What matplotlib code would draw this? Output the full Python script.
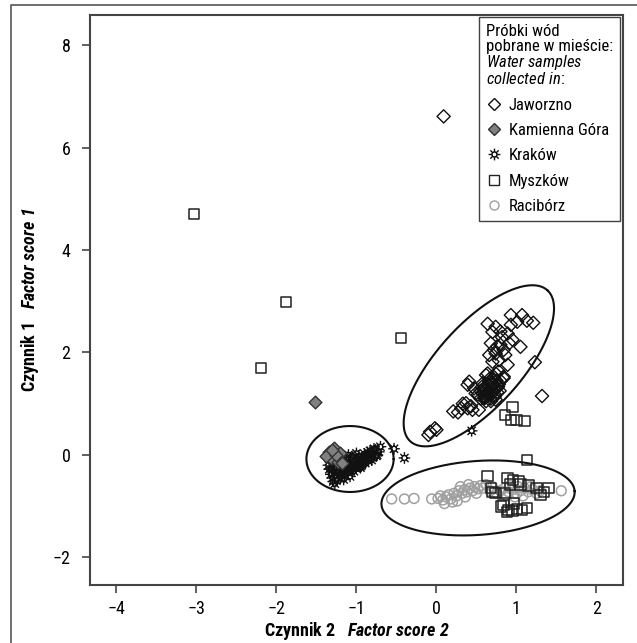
import numpy as np
import matplotlib
matplotlib.use("Agg")
import matplotlib.pyplot as plt
from matplotlib import font_manager
from matplotlib.path import Path
from matplotlib.lines import Line2D

# pick a narrow sans if one is installed
ttf = font_manager.fontManager.ttflist
names = {f.name for f in ttf}
STRETCH = "normal"
if "Liberation Sans Narrow" in names:
    FONT = "Liberation Sans Narrow"
elif "Roboto Condensed" in names:
    FONT = "Roboto Condensed"
elif any(f.name == "DejaVu Sans" and f.stretch != "normal" for f in ttf):
    FONT = "DejaVu Sans"
    STRETCH = "condensed"
else:
    FONT = "Liberation Sans"
plt.rcParams["font.family"] = [FONT, "DejaVu Sans"]
plt.rcParams["font.stretch"] = STRETCH
plt.rcParams["mathtext.fontset"] = "custom"
sfx = "" if STRETCH == "normal" else ":condensed"
plt.rcParams["mathtext.rm"] = FONT + sfx
plt.rcParams["mathtext.it"] = FONT + ":italic" + sfx
plt.rcParams["mathtext.bf"] = FONT + ":bold" + sfx
plt.rcParams["mathtext.bfit"] = FONT + ":italic:bold" + sfx

# factor scores (x = factor 2, y = factor 1)
jaw_x = [0.09, 1.32, 1.23,
         0.93, 1.07, 1.21, 1.13, 0.64, 0.74, 0.80, 0.93, 1.01, 0.89, 0.68, 0.80, 0.91, 1.05,
         0.84, 0.74, 0.66, 0.78, 0.89, 0.70, 0.64, 0.78, 0.41, 0.47, 0.84, 0.72, 0.76, 0.82,
         0.70, 0.86, 0.95,
         0.55, 0.60, 0.65, 0.70, 0.75, 0.60, 0.65, 0.70, 0.75, 0.55, 0.62, 0.68, 0.73, 0.78,
         0.58, 0.66, 0.72, 0.80, 0.63, 0.69, 0.52, 0.57, 0.74, 0.79,
         0.58, 0.63, 0.67, 0.71, 0.76, 0.61, 0.66, 0.71, 0.68, 0.64, 0.73, 0.77, 0.59, 0.69,
         0.39, 0.49, 0.60, 0.62, 0.74, 0.84, 0.45, 0.37, 0.53, 0.31, 0.21, 0.27, 0.39, -0.08,
         -0.02, -0.10, 0.00, 0.33, 0.43]
jaw_y = [6.61, 1.15, 1.81,
         2.73, 2.73, 2.58, 2.62, 2.56, 2.50, 2.41, 2.54, 2.60, 2.37, 2.18, 2.15, 2.18, 2.11,
         2.05, 1.98, 1.95, 1.85, 1.76, 1.82, 1.59, 1.63, 1.43, 1.30, 1.50, 2.05, 2.12, 2.30,
         2.40, 1.95, 2.25,
         1.10, 1.15, 1.20, 1.25, 1.30, 1.30, 1.35, 1.40, 1.45, 1.25, 1.05, 1.10, 1.18, 1.38,
         1.40, 1.48, 1.52, 1.45, 1.22, 1.32, 1.18, 1.33, 1.08, 1.25,
         1.20, 1.28, 1.16, 1.36, 1.22, 1.12, 1.42, 1.30, 1.05, 1.38, 1.14, 1.33, 1.24, 1.48,
         1.37, 1.20, 1.11, 1.56, 1.59, 1.53, 0.88, 1.01, 0.88, 0.91, 0.85, 0.83, 0.91, 0.45,
         0.52, 0.39, 0.49, 1.00, 0.95]

kam_x = [-1.52, -1.34, -1.28, -1.21, -1.32, -1.23, -1.38, -1.18, -1.26, -1.30]
kam_y = [1.04, 0.06, 0.13, 0.03, -0.06, -0.13, -0.02, -0.15, 0.00, 0.10]

kra_x = [-1.30, -1.25, -1.22, -1.28, -1.18, -1.15, -1.10, -1.12, -1.05, -1.00, -1.08, -1.02,
         -0.95, -0.92, -0.88, -0.85, -0.80, -0.78, -0.90, -0.97, -1.05, -1.15, -1.20, -1.25,
         -1.18, -1.10, -1.00, -0.95, -0.85, -1.13, -1.08, -1.20, -0.76, -0.70, -0.78, -0.53,
         -0.40, 0.44, -0.83, -0.93, -1.03, -1.16, -1.26, -1.32, -1.35, -1.30, -1.22, -1.12,
         -0.98, -0.88, -0.82, -1.06, -1.14, -0.74, -0.86, -1.24, -1.34,
         -1.19, -1.09, -0.99, -0.91, -1.04, -1.13, -1.23, -1.29, -0.96, -0.87, -1.17, -1.07,
         -0.81, -0.75, -0.89, -0.94, -1.01, -1.11, -1.21, -1.31, -1.27, -0.72]
kra_y = [-0.45, -0.50, -0.40, -0.35, -0.30, -0.40, -0.35, -0.25, -0.28, -0.20, -0.15, -0.10,
         -0.15, -0.05, -0.10, 0.00, -0.05, 0.05, 0.02, -0.02, -0.05, -0.10, -0.20, -0.25,
         -0.05, 0.00, 0.03, -0.25, -0.12, -0.20, -0.42, -0.45, 0.10, 0.16, 0.12, 0.12,
         -0.06, 0.47, 0.08, -0.18, -0.32, -0.48, -0.40, -0.38, -0.20, -0.10, -0.30, -0.05,
         -0.08, -0.02, 0.02, -0.20, -0.32, 0.00, 0.05, -0.15, -0.28,
         -0.38, -0.22, -0.12, -0.08, -0.14, -0.15, -0.33, -0.52, -0.22, -0.05, -0.24, -0.30,
         -0.10, -0.02, -0.16, -0.22, -0.26, -0.28, -0.12, -0.28, -0.56, 0.06]

mys_x = [-3.03, -1.88, -0.44, -2.19, 0.95, 0.86, 0.93, 1.00, 1.10, 1.13,
         0.64, 0.70, 0.81, 0.74, 0.89, 0.96, 1.03, 1.05, 0.92, 0.84, 0.90, 1.01, 1.13,
         0.95, 1.07, 0.97, 1.34, 1.40, 1.25, 1.30, 1.15, 0.68, 0.85, 0.88]
mys_y = [4.71, 2.99, 2.28, 1.70, 0.94, 0.78, 0.68, 0.68, 0.66, -0.10,
         -0.41, -0.72, -1.01, -0.74, -0.45, -0.49, -0.52, -0.58, -0.58, -0.98, -1.07, -1.05, -1.03,
         -1.10, -1.08, -0.95, -0.72, -0.65, -0.65, -0.78, -0.60, -0.65, -0.75, -1.12]

rac_x = [-0.56, -0.40, -0.28, -0.06, 0.02, 0.05, 0.08, 0.12, 0.15, 0.18, 0.22, 0.25, 0.28,
         0.32, 0.35, 0.38, 0.42, 0.45, 0.48, 0.52, 0.55, 0.58, 0.62, 0.30, 0.20, 0.10, 0.40,
         0.50, 0.26, 0.36,
         0.80, 0.85, 0.90, 0.95, 1.00, 1.05, 1.10, 1.15, 1.20, 1.25, 0.88, 0.98, 1.08, 1.18,
         0.92, 1.02, 0.75, 1.30, 1.56, 0.70, 0.67]
rac_y = [-0.86, -0.86, -0.85, -0.86, -0.85, -0.80, -0.88, -0.82, -0.78, -0.86, -0.75, -0.80,
         -0.70, -0.75, -0.68, -0.72, -0.65, -0.70, -0.62, -0.66, -0.60, -0.65, -0.58, -0.62,
         -0.92, -0.95, -0.58, -0.75, -0.90, -0.82,
         -0.70, -0.65, -0.72, -0.68, -0.75, -0.70, -0.65, -0.72, -0.68, -0.75, -0.80, -0.82,
         -0.80, -0.62, -0.60, -0.62, -0.75, -0.70, -0.70, -0.62, -0.70]

# group ellipses: centre, half-axis vectors (data units)
ell_centres = [(0.53, 1.74), (0.52, -0.84), (-1.08, -0.08)]
ell_axis1 = [(0.86, 1.47), (1.207, 0.133), (0.545, 0.0)]
ell_axis2 = [(0.379, -0.56), (0.032, -0.72), (0.0, 0.644)]

x_ticks = [-4, -3, -2, -1, 0, 1, 2]
y_ticks = [-2, 0, 2, 4, 6, 8]


def sun_marker():
    t = np.linspace(0, 2 * np.pi, 25)
    ring = Path(np.column_stack([0.42 * np.cos(t), 0.42 * np.sin(t)]))
    parts = [ring]
    for a in np.arange(8) * np.pi / 4:
        parts.append(Path([(0.42 * np.cos(a), 0.42 * np.sin(a)), (np.cos(a), np.sin(a))],
                          [Path.MOVETO, Path.LINETO]))
    return Path.make_compound_path(*parts)


SUN = sun_marker()

fig = plt.figure(figsize=(6.37, 6.43), dpi=100)
# outer frame of the printed figure: only its left and top edges fall inside the image
fig.add_artist(Line2D([0.0173, 0.0173, 1.01], [-0.01, 0.9915, 0.9915],
                      transform=fig.transFigure, color="#555555", linewidth=1.2))
ax = fig.add_axes([0.1413, 0.0902, 0.8365, 0.8865])

ax.scatter(rac_x, rac_y, s=50, marker="o", facecolors="none", edgecolors="#a0a0a0",
           linewidths=1.1, zorder=2)
ax.scatter(mys_x, mys_y, s=55, marker="s", facecolors="none", edgecolors="#222222",
           linewidths=1.1, zorder=3)
ax.scatter(jaw_x, jaw_y, s=45, marker="D", facecolors="none", edgecolors="#111111",
           linewidths=1.0, zorder=3)
ax.scatter(kra_x, kra_y, s=70, marker=SUN, facecolors="none", edgecolors="#111111",
           linewidths=1.0, zorder=3)
ax.scatter(kam_x, kam_y, s=42, marker="D", facecolors="#808080", edgecolors="#333333",
           linewidths=1.0, zorder=4)

t = np.linspace(0, 2 * np.pi, 300)
for c, a1, a2 in zip(ell_centres, ell_axis1, ell_axis2):
    ex = c[0] + np.cos(t) * a1[0] + np.sin(t) * a2[0]
    ey = c[1] + np.cos(t) * a1[1] + np.sin(t) * a2[1]
    ax.plot(ex, ey, color="#111111", linewidth=1.5, zorder=5)

ax.set_xlim(-4.33, 2.33)
ax.set_ylim(-2.54, 8.59)
ax.set_xticks(x_ticks)
ax.set_yticks(y_ticks)
ax.set_xticklabels([str(v).replace("-", "\u2212") for v in x_ticks])
ax.set_yticklabels([str(v).replace("-", "\u2212") for v in y_ticks])
ax.tick_params(axis="x", direction="out", length=6, width=1.2, color="#444444",
               labelsize=13, pad=5)
ax.tick_params(axis="y", direction="out", length=6, width=1.2, color="#444444",
               labelsize=13, pad=8)
for sp in ax.spines.values():
    sp.set_linewidth(1.5)
    sp.set_color("#444444")

ax.set_xlabel(r"Czynnik 2   $\mathbfit{Factor\ score\ 2}$", fontsize=13,
              fontweight="bold", labelpad=1)
ax.set_ylabel(r"Czynnik 1   $\mathbfit{Factor\ score\ 1}$", fontsize=13,
              fontweight="bold", labelpad=8)

handles = [
    Line2D([], [], linestyle="none", marker="D", markersize=6.5, markerfacecolor="none",
           markeredgecolor="#111111"),
    Line2D([], [], linestyle="none", marker="D", markersize=6.5, markerfacecolor="#808080",
           markeredgecolor="#333333"),
    Line2D([], [], linestyle="none", marker=SUN, markersize=8.5, markerfacecolor="none",
           markeredgecolor="#111111"),
    Line2D([], [], linestyle="none", marker="s", markersize=6.5, markerfacecolor="none",
           markeredgecolor="#222222"),
    Line2D([], [], linestyle="none", marker="o", markersize=6.5, markerfacecolor="none",
           markeredgecolor="#a0a0a0"),
]
labels = ["Jaworzno", "Kamienna Góra", "Kraków", "Myszków", "Racibórz"]
title = ("Próbki wód\npobrane w mieście:\n"
         r"$\mathit{Water\ samples}$" "\n" r"$\mathit{collected\ in\!:}$")
leg = ax.legend(handles, labels, title=title, loc="upper right",
                bbox_to_anchor=(0.995, 0.996), borderaxespad=0, fontsize=12,
                title_fontsize=12, alignment="left", frameon=True, fancybox=False,
                edgecolor="#111111", handlelength=0.9, handletextpad=0.45,
                labelspacing=0.62, borderpad=0.42)
leg.get_frame().set_linewidth(1.0)
leg.get_title().set_linespacing(0.95)

fig.savefig("out.png", dpi=100)
